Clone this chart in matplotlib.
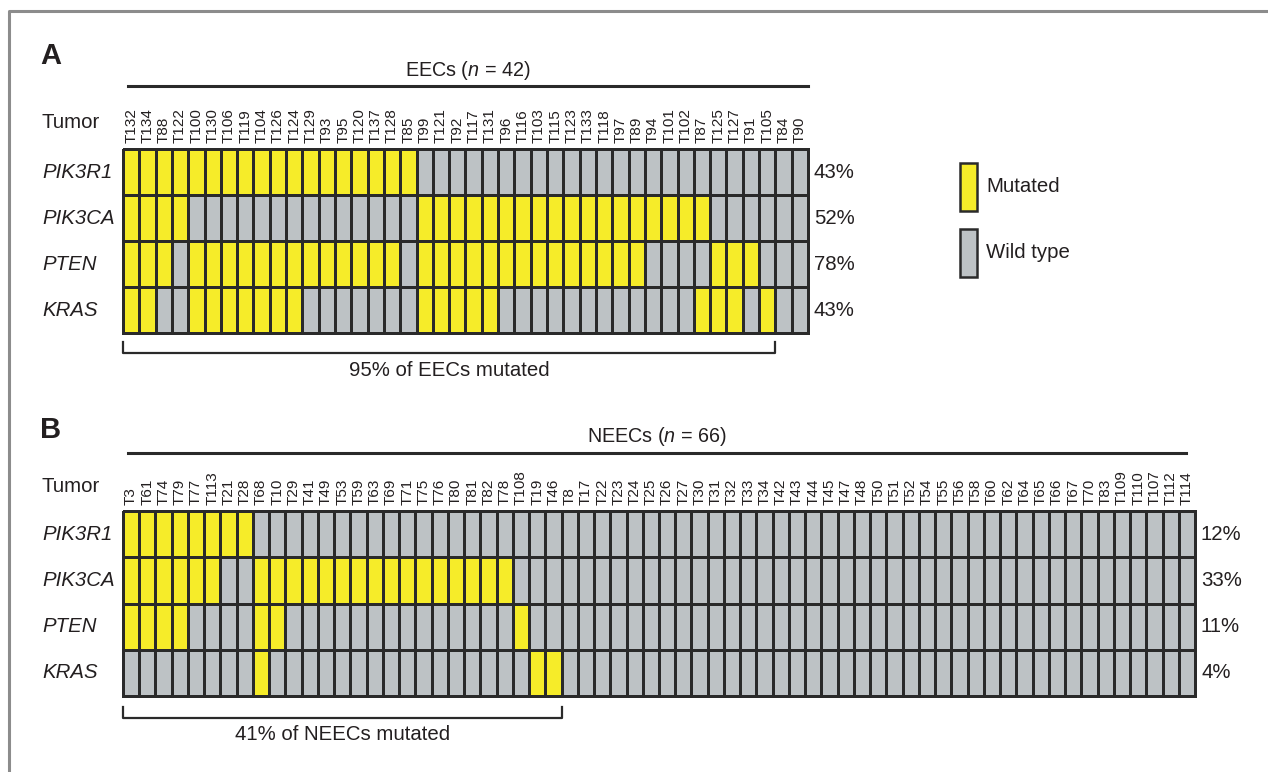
import matplotlib.pyplot as plt
import numpy as np
from matplotlib.colors import ListedColormap
from matplotlib.patches import Rectangle
from matplotlib.transforms import blended_transform_factory

plt.rcParams['font.family'] = ['Liberation Sans', 'DejaVu Sans']
plt.rcParams['mathtext.fontset'] = 'custom'
plt.rcParams['mathtext.rm'] = 'Liberation Sans'
plt.rcParams['mathtext.it'] = 'Liberation Sans:italic'

genes = ["PIK3R1", "PIK3CA", "PTEN", "KRAS"]

# ---- EECs ----
eec_tumors = ["T132", "T134", "T88", "T122", "T100", "T130", "T106", "T119", "T104",
              "T126", "T124", "T129", "T93", "T95", "T120", "T137", "T128", "T85",
              "T99", "T121", "T92", "T117", "T131", "T96", "T116", "T103", "T115",
              "T123", "T133", "T118", "T97", "T89", "T94", "T101", "T102", "T87",
              "T125", "T127", "T91", "T105", "T84", "T90"]
# 1 = mutated, 0 = wild type
eec_pik3r1 = "111111111111111111000000000000000000000000"
eec_pik3ca = "111100000000000000111111111111111111000000"
eec_pten   = "111011111111111110111111111111110000111000"
eec_kras   = "110011111110000000111110000000000001110100"
eec_pct = ["43%", "52%", "78%", "43%"]
eec_span = 40   # tumours covered by the bracket

# ---- NEECs ----
neec_tumors = ["T3", "T61", "T74", "T79", "T77", "T113", "T21", "T28", "T68", "T10",
               "T29", "T41", "T49", "T53", "T59", "T63", "T69", "T71", "T75", "T76",
               "T80", "T81", "T82", "T78", "T108", "T19", "T46", "T8", "T17", "T22",
               "T23", "T24", "T25", "T26", "T27", "T30", "T31", "T32", "T33", "T34",
               "T42", "T43", "T44", "T45", "T47", "T48", "T50", "T51", "T52", "T54",
               "T55", "T56", "T58", "T60", "T62", "T64", "T65", "T66", "T67", "T70",
               "T83", "T109", "T110", "T107", "T112", "T114"]
neec_pik3r1 = "11111111" + "0" * 58
neec_pik3ca = "111111001111111111111111" + "0" * 42
neec_pten   = "111100001100000000000000100" + "0" * 39
neec_kras   = "000000001000000000000000011" + "0" * 39
neec_pct = ["12%", "33%", "11%", "4%"]
neec_span = 27

YELLOW = "#F6EC29"
GRAY = "#BDC2C5"
EDGE = "#2a2a2a"
TXT = "#231F20"
W, H = 1268, 772
FS = 14.7
CELL_LW = 1.8

fig = plt.figure(figsize=(W / 100, H / 100), dpi=100)
over = fig.add_axes([0, 0, 1, 1])
over.set_xlim(0, W)
over.set_ylim(H, 0)
over.axis('off')

# frame
over.plot([9, 9, W], [H, 11, 11], color="#8c8c8c", lw=2.2, solid_capstyle='butt')


def to_matrix(rows):
    return np.array([[int(c) for c in r] for r in rows])


def panel(letter, tumors, rows, pct, span, title, box, letter_y, title_y, line_x1,
          tumor_y, bracket_y, label):
    x0, y0, x1, y1 = box
    ax = fig.add_axes([x0 / W, 1 - y1 / H, (x1 - x0) / W, (y1 - y0) / H])
    n = len(tumors)
    mat = to_matrix(rows)
    mesh = ax.pcolormesh(np.arange(n + 1), np.arange(5), mat,
                         cmap=ListedColormap([GRAY, YELLOW]), vmin=0, vmax=1,
                         edgecolors=EDGE, linewidth=CELL_LW)
    mesh.set_clip_on(False)
    ax.set_xlim(0, n)
    ax.set_ylim(4, 0)
    for s in ax.spines.values():
        s.set_visible(False)
    ax.xaxis.tick_top()
    ax.set_xticks(np.arange(n) + 0.5, tumors, rotation=90, fontsize=11, color=TXT)
    ax.set_yticks([])
    ax.tick_params(axis='x', length=0, pad=4)

    # gene names and mutation frequency
    tr = blended_transform_factory(over.transData, ax.transData)
    for i, g in enumerate(genes):
        ax.text(42, i + 0.5, g, transform=tr, style='italic', fontsize=FS,
                ha='left', va='center', color=TXT)
        ax.text(x1 + 6, i + 0.5, pct[i], transform=tr, fontsize=FS,
                ha='left', va='center', color=TXT)

    over.text(40, letter_y, letter, fontsize=21, fontweight='bold', ha='left',
              va='center', color=TXT)
    over.plot([128, line_x1], [title_y + 16, title_y + 16], color=EDGE, lw=2.2)
    over.text((128 + line_x1) / 2, title_y, title, fontsize=FS - 0.5,
              ha='center', va='center', color=TXT)
    over.text(42, tumor_y, "Tumor", fontsize=FS, ha='left', va='center', color=TXT)

    # bracket under mutated tumours
    trb = blended_transform_factory(ax.transData, over.transData)
    ax.plot([0, 0, span, span], [bracket_y - 11, bracket_y, bracket_y, bracket_y - 11],
            transform=trb, color=EDGE, lw=1.6, clip_on=False)
    ax.text(span / 2, bracket_y + 17, label, transform=trb, fontsize=FS,
            ha='center', va='center', color=TXT)


panel("A", eec_tumors, [eec_pik3r1, eec_pik3ca, eec_pten, eec_kras], eec_pct, eec_span,
      "EECs ($n$ = 42)", (123, 149, 808, 333), 56, 70, 808, 122, 353,
      "95% of EECs mutated")
panel("B", neec_tumors, [neec_pik3r1, neec_pik3ca, neec_pten, neec_kras], neec_pct,
      neec_span, "NEECs ($n$ = 66)", (123, 511, 1195, 696), 430, 437, 1186, 487, 718,
      "41% of NEECs mutated")

# legend
for y, c, lab in [(163, YELLOW, "Mutated"), (229, GRAY, "Wild type")]:
    over.add_patch(Rectangle((960, y), 17, 48, facecolor=c, edgecolor=EDGE, lw=CELL_LW))
    over.text(986, y + 24, lab, fontsize=FS, ha='left', va='center', color=TXT)

fig.savefig("out.png", dpi=100)
